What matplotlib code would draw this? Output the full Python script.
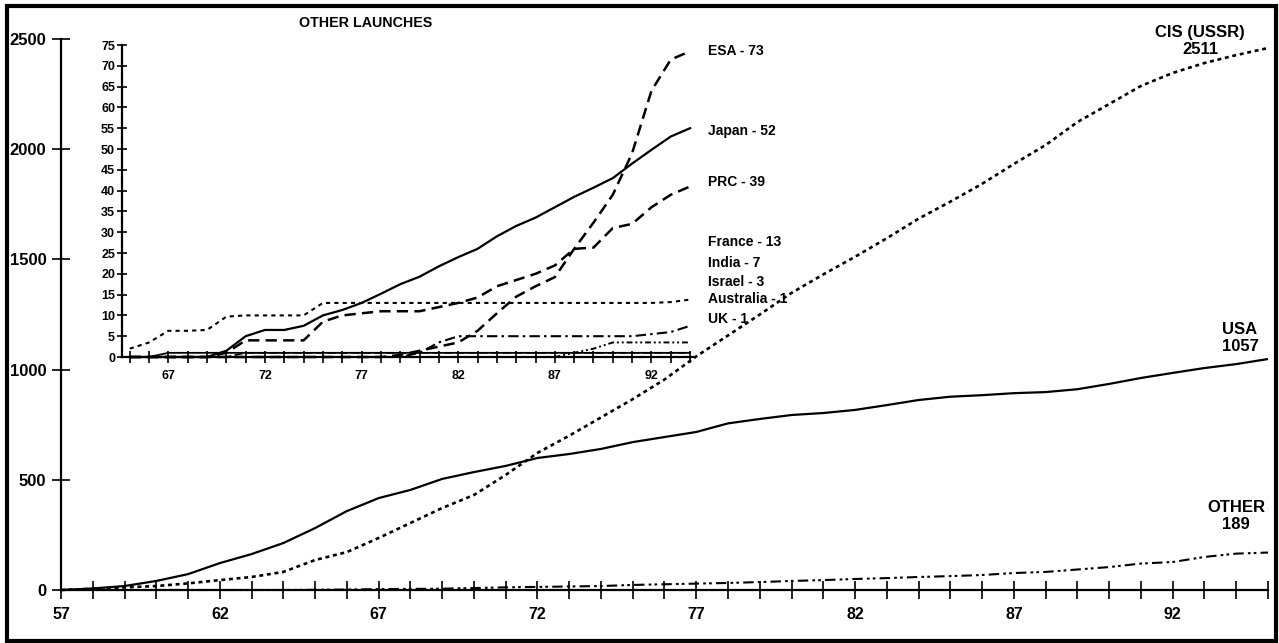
import matplotlib
matplotlib.use('Agg')
import matplotlib.pyplot as plt
from matplotlib.patches import Rectangle
from matplotlib.ticker import FixedLocator, MultipleLocator

plt.rcParams['font.family'] = ['Liberation Sans', 'DejaVu Sans']
plt.rcParams['font.weight'] = 'bold'

# ---------------- data ----------------
main_years = list(range(57, 96))
usa = [0, 7, 18, 41, 72, 122, 163, 213, 281, 358, 417, 454, 504, 535, 563, 599,
       617, 640, 671, 694, 717, 756, 776, 794, 803, 817, 839, 862, 877, 884, 893,
       898, 911, 935, 962, 985, 1007, 1025, 1048]
cis = [0, 5, 12, 18, 30, 45, 59, 82, 136, 172, 236, 304, 372, 431, 522, 622,
       700, 783, 866, 955, 1060, 1155, 1250, 1348, 1432, 1512, 1596, 1685, 1762,
       1843, 1933, 2019, 2123, 2205, 2287, 2346, 2391, 2427, 2459]
other = [0, 0, 0, 0, 0, 0, 0, 0, 1, 2, 4, 5, 6, 9, 12, 14, 16, 18, 23, 26, 29,
         32, 36, 41, 45, 50, 54, 59, 63, 68, 77, 82, 93, 104, 120, 127, 150, 165, 170]
main_yticks = [0, 500, 1000, 1500, 2000, 2500]
main_xlabels = ['57', '62', '67', '72', '77', '82', '87', '92']

inset_years = list(range(65, 95))
japan = [0, 0, 0, 0, 0, 1.5, 5, 6.5, 6.5, 7.5, 10, 11.3, 13, 15.2, 17.5, 19.3,
         21.8, 24, 26, 29, 31.5, 33.5, 36, 38.5, 40.7, 43, 46.5, 49.8, 53, 55]
esa = [0] * 14 + [0.5, 1.5, 2.5, 3.5, 6.3, 10.5, 14.5, 17, 19.2, 26, 32.3, 39,
                  49, 64, 71.5, 73.5]
prc = [0] * 5 + [1, 4, 4, 4, 4, 8.5, 10, 10.5, 11, 11, 11, 12, 13, 14.3, 17,
                 18.5, 20, 22, 26, 26.3, 31, 32, 36, 39, 41]
france = [2, 3.5, 6.3, 6.3, 6.5, 9.7, 10, 10, 10, 10, 13] + [13] * 17 + [13.2, 13.8]
india = [0] * 15 + [1, 3.5, 5, 5, 5, 5, 5, 5, 5, 5, 5, 5, 5.5, 6, 7.5]
israel = [0] * 23 + [1, 2, 3.5, 3.5, 3.5, 3.5, 3.5]
australia = [0, 0] + [1] * 28
uk = [0] * 6 + [1] * 24
inset_yticks = list(range(0, 80, 5))
inset_xlabels = ['67', '72', '77', '82', '87', '92']

# ---------------- figure ----------------
W, H = 1279, 643
fig = plt.figure(figsize=(W / 100, H / 100), dpi=100)


def fx(x):
    return x / W


def fy(y):
    return 1 - y / H


# main axes
ax = fig.add_axes([fx(61), fy(590), fx(1268) - fx(61), fy(39) - fy(590)])
ax.set_xlim(57, 95)
ax.set_ylim(0, 2500)
for s in ['top', 'right']:
    ax.spines[s].set_visible(False)
for s in ['left', 'bottom']:
    ax.spines[s].set_linewidth(1.6)

ax.plot(main_years, usa, color='black', lw=1.6, solid_capstyle='butt', clip_on=False)
ax.plot(main_years, cis, color='black', lw=1.9, dashes=(1.5, 1.4), clip_on=False)
ax.plot(main_years, other, color='black', lw=1.5,
        dashes=(5, 2, 1.3, 1.5, 1.3, 2), clip_on=False)

ax.xaxis.set_major_locator(FixedLocator([int(v) for v in main_xlabels]))
ax.set_xticklabels(main_xlabels)
ax.xaxis.set_minor_locator(MultipleLocator(1))
ax.set_yticks(main_yticks)
ax.tick_params(axis='both', which='both', direction='inout', length=13, width=1.2)
ax.tick_params(axis='x', which='major', labelsize=11.5, pad=6)
ax.tick_params(axis='y', which='major', labelsize=12, pad=4)
for lab in ax.get_xticklabels() + ax.get_yticklabels():
    lab.set_fontweight('bold')

# series labels (main)
lab_kw = dict(ha='center', va='center', fontsize=12, fontweight='bold', linespacing=1.15)
fig.text(fx(1200), fy(41), 'CIS (USSR)\n2511', **lab_kw)
fig.text(fx(1240), fy(338), 'USA\n1057', **lab_kw)
fig.text(fx(1236), fy(516), 'OTHER\n189', **lab_kw)

# inset axes
ia = fig.add_axes([fx(122), fy(357), fx(693) - fx(122), fy(45) - fy(357)])
ia.set_facecolor('none')
ia.set_xlim(64.6, 94.15)
ia.set_ylim(0, 75)
for s in ['top', 'right']:
    ia.spines[s].set_visible(False)
for s in ['left', 'bottom']:
    ia.spines[s].set_linewidth(1.6)

ia.plot(inset_years, australia, color='black', lw=1.3, clip_on=False)
ia.plot(inset_years, uk, color='black', lw=1.2, dashes=(5, 2), clip_on=False)
ia.plot(inset_years, israel, color='black', lw=1.4, dashes=(3, 1.5, 1, 1.5, 1, 1.5), clip_on=False)
ia.plot(inset_years, india, color='black', lw=1.5, dashes=(5, 2, 1.2, 2), clip_on=False)
ia.plot(inset_years, france, color='black', lw=1.5, dashes=(2, 2), clip_on=False)
ia.plot(inset_years, prc, color='black', lw=1.8, dashes=(4.5, 2.5), clip_on=False)
ia.plot(inset_years, esa, color='black', lw=1.8, dashes=(4.5, 2.5), clip_on=False)
ia.plot(inset_years, japan, color='black', lw=1.6, clip_on=False)

ia.xaxis.set_major_locator(FixedLocator([int(v) for v in inset_xlabels]))
ia.set_xticklabels(inset_xlabels)
ia.xaxis.set_minor_locator(MultipleLocator(1))
ia.set_yticks(inset_yticks)
ia.tick_params(axis='both', which='both', direction='inout', width=1.2)
ia.tick_params(axis='x', which='both', length=9)
ia.tick_params(axis='y', which='both', length=7)
ia.tick_params(axis='x', which='major', labelsize=9, pad=5)
ia.tick_params(axis='y', which='major', labelsize=9, pad=1.5)
for lab in ia.get_xticklabels() + ia.get_yticklabels():
    lab.set_fontweight('bold')

fig.text(fx(366), fy(23), 'OTHER LAUNCHES', ha='center', va='center',
         fontsize=10.3, fontweight='bold')

inset_labels = [('ESA - 73', 51), ('Japan - 52', 131), ('PRC - 39', 182),
                ('France - 13', 242), ('India - 7', 263), ('Israel - 3', 282),
                ('Australia - 1', 299), ('UK - 1', 319)]
for txt, yy in inset_labels:
    fig.text(fx(708), fy(yy), txt, ha='left', va='center', fontsize=10,
             fontweight='bold')

# outer frame
fig.patches.append(Rectangle((fx(7), fy(640.5)), fx(1276) - fx(7), fy(5.5) - fy(640.5),
                             transform=fig.transFigure, fill=False, lw=3,
                             edgecolor='black'))

fig.savefig('out.png', dpi=100)
